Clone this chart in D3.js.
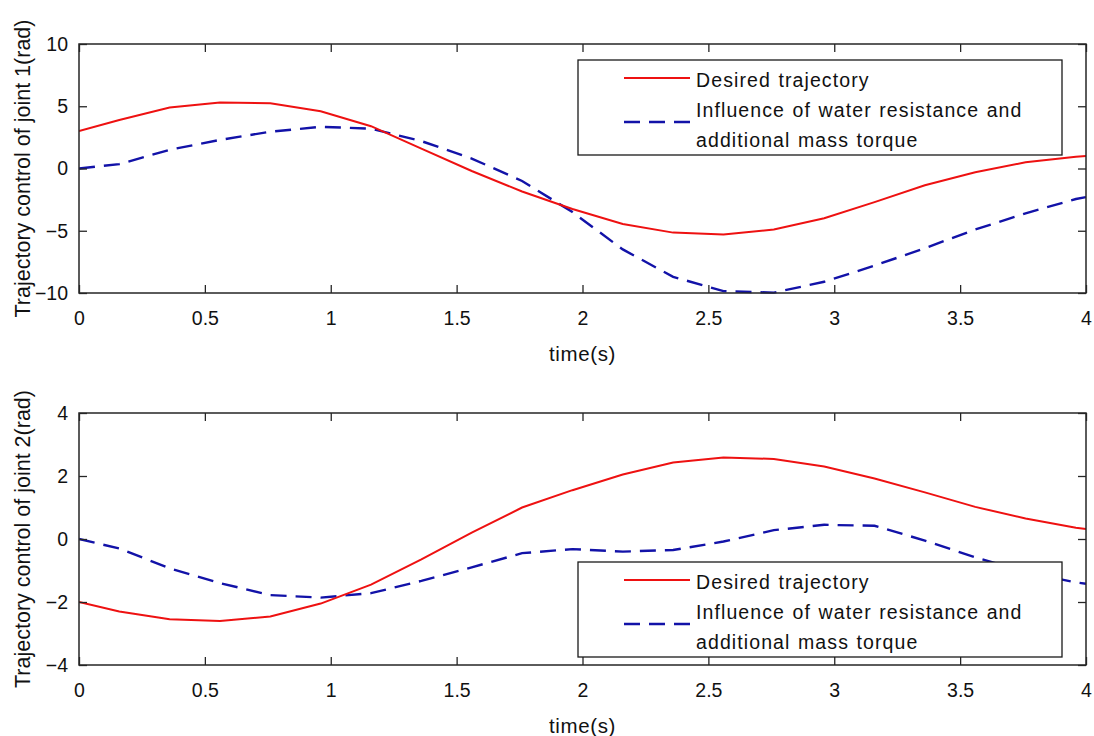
<!DOCTYPE html>
<html>
<head>
<meta charset="utf-8">
<script src="https://cdn.jsdelivr.net/npm/d3@7"></script>
<style>
  html, body { margin: 0; padding: 0; background: #ffffff; }
  svg { display: block; }
  text { font-family: "Liberation Sans", Arial, Helvetica, sans-serif; fill: #111; }
</style>
</head>
<body>
<svg id="chart" width="1094" height="736"></svg>
<script>
// Sample times (s)
const time = [0, 0.16, 0.36, 0.56, 0.76, 0.96, 1.16, 1.36, 1.56, 1.76, 1.96,
              2.16, 2.36, 2.56, 2.76, 2.96, 3.16, 3.36, 3.56, 3.76, 3.96, 4.0];

// Joint 1 (rad)
const joint1Desired = [3.0, 3.9, 4.9, 5.3, 5.25, 4.6, 3.4, 1.6, -0.2, -1.85, -3.25,
                       -4.46, -5.15, -5.3, -4.9, -4.0, -2.7, -1.35, -0.3, 0.5, 0.95, 1.0];
const joint1Disturbed = [0.0, 0.35, 1.5, 2.3, 2.95, 3.35, 3.2, 2.2, 0.8, -1.0, -3.5,
                         -6.5, -8.7, -9.85, -9.97, -9.1, -7.8, -6.4, -4.9, -3.6, -2.45, -2.3];

// Joint 2 (rad)
const joint2Desired = [-2.0, -2.3, -2.55, -2.6, -2.46, -2.05, -1.45, -0.65, 0.2, 1.0, 1.55,
                       2.05, 2.43, 2.59, 2.54, 2.3, 1.92, 1.48, 1.02, 0.65, 0.36, 0.32];
const joint2Disturbed = [0.0, -0.3, -0.93, -1.4, -1.78, -1.86, -1.72, -1.33, -0.9, -0.45, -0.32,
                         -0.4, -0.35, -0.08, 0.28, 0.45, 0.42, -0.05, -0.58, -1.05, -1.38, -1.42];

// Axis ticks
const xTicks = [0, 0.5, 1, 1.5, 2, 2.5, 3, 3.5, 4];
const yTicks1 = [-10, -5, 0, 5, 10];
const yTicks2 = [-4, -2, 0, 2, 4];

const seriesNames = ["Desired trajectory", "Influence of water resistance and", "additional mass torque"];

const RED = "#ee1111";
const BLUE = "#1212a8";
const AXIS = "#262626";

const svg = d3.select("#chart");

function panel(cfg) {
  const { top, bottom, left, right, yDomain, yTicks, desired, disturbed, ylabel, legendTop, id } = cfg;
  const x = d3.scaleLinear().domain([0, 4]).range([left, right]);
  const y = d3.scaleLinear().domain(yDomain).range([bottom, top]);
  const g = svg.append("g");

  g.append("clipPath").attr("id", id).append("rect")
    .attr("x", left).attr("y", top - 2).attr("width", right - left).attr("height", bottom - top + 4);

  const line = d3.line().x(d => x(d[0])).y(d => y(d[1])).curve(d3.curveLinear);
  const plot = g.append("g").attr("clip-path", `url(#${id})`);

  plot.append("path")
    .attr("d", line(time.map((t, i) => [t, disturbed[i]])))
    .attr("fill", "none").attr("stroke", BLUE).attr("stroke-width", 2.4)
    .attr("stroke-dasharray", "16,9");
  plot.append("path")
    .attr("d", line(time.map((t, i) => [t, desired[i]])))
    .attr("fill", "none").attr("stroke", RED).attr("stroke-width", 2);

  // Inward ticks on all four sides
  const tickLen = 8;
  const axisBottom = d3.axisBottom(x).tickValues(xTicks).tickSizeInner(-tickLen).tickSizeOuter(0)
    .tickPadding(16).tickFormat(d3.format("~g"));
  const axisTop = d3.axisTop(x).tickValues(xTicks).tickSizeInner(-tickLen).tickSizeOuter(0).tickFormat("");
  const axisLeft = d3.axisLeft(y).tickValues(yTicks).tickSizeInner(-tickLen).tickSizeOuter(0)
    .tickPadding(12).tickFormat(d3.format("~g"));
  const axisRight = d3.axisRight(y).tickValues(yTicks).tickSizeInner(-tickLen).tickSizeOuter(0).tickFormat("");

  const gb = g.append("g").attr("transform", `translate(0,${bottom})`).call(axisBottom);
  const gt = g.append("g").attr("transform", `translate(0,${top})`).call(axisTop);
  const gl = g.append("g").attr("transform", `translate(${left},0)`).call(axisLeft);
  const gr = g.append("g").attr("transform", `translate(${right},0)`).call(axisRight);
  [gb, gt, gl, gr].forEach(a => {
    a.select(".domain").remove();
    a.selectAll(".tick line").attr("stroke", AXIS).attr("stroke-width", 1.3);
    a.selectAll(".tick text").attr("fill", "#111").style("font-size", "19.5px")
      .style("font-family", '"Liberation Sans", Arial, sans-serif');
  });
  gb.selectAll(".tick text").attr("dy", "0.71em").attr("y", 18);
  gl.selectAll(".tick text").attr("x", -11);

  g.append("rect").attr("x", left).attr("y", top).attr("width", right - left).attr("height", bottom - top)
    .attr("fill", "none").attr("stroke", AXIS).attr("stroke-width", 1.5);

  g.append("text").attr("x", (left + right) / 2).attr("y", bottom + 68)
    .attr("text-anchor", "middle").style("font-size", "20.5px").style("letter-spacing", "0.6px")
    .text("time(s)");

  g.append("text").attr("transform", `translate(30,${(top + bottom) / 2}) rotate(-90)`)
    .attr("text-anchor", "middle").style("font-size", "21.5px")
    .text(ylabel);

  // Legend
  const lx = 578, lw = 484, lh = 95;
  const lg = g.append("g").attr("transform", `translate(${lx},${legendTop})`);
  lg.append("rect").attr("width", lw).attr("height", lh)
    .attr("fill", "#ffffff").attr("stroke", "#1a1a1a").attr("stroke-width", 1.3);
  lg.append("line").attr("x1", 46).attr("x2", 112).attr("y1", 18).attr("y2", 18)
    .attr("stroke", RED).attr("stroke-width", 2);
  lg.append("line").attr("x1", 46).attr("x2", 112).attr("y1", 62).attr("y2", 62)
    .attr("stroke", BLUE).attr("stroke-width", 2.4).attr("stroke-dasharray", "16,9");
  const ty = [27, 57, 87];
  seriesNames.forEach((s, i) => {
    lg.append("text").attr("x", 118).attr("y", ty[i])
      .style("font-size", "19.5px").style("letter-spacing", "1.1px").style("word-spacing", "1px").text(s);
  });
}

panel({ id: "clip1", top: 44, bottom: 293, left: 79, right: 1086, yDomain: [-10, 10], yTicks: yTicks1,
  desired: joint1Desired, disturbed: joint1Disturbed, ylabel: "Trajectory control of joint 1(rad)", legendTop: 60 });
panel({ id: "clip2", top: 413, bottom: 665, left: 79, right: 1086, yDomain: [-4, 4], yTicks: yTicks2,
  desired: joint2Desired, disturbed: joint2Disturbed, ylabel: "Trajectory control of joint 2(rad)", legendTop: 562 });
</script>
</body>
</html>
